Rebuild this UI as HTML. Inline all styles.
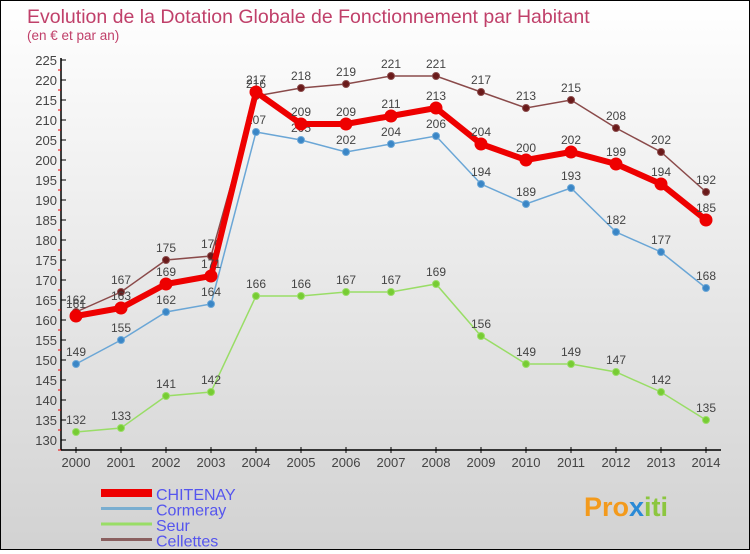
<!DOCTYPE html>
<html><head><meta charset="utf-8"><style>
body{margin:0;width:750px;height:550px;overflow:hidden;font-family:"Liberation Sans",sans-serif}
#c{position:absolute;left:0;top:0;width:748px;height:548px;border:1px solid #000;background:linear-gradient(#fff,#d2d2d2)}
</style></head><body>
<div id="c">
<svg id="s" width="748" height="548">
<text x="26" y="22" font-size="19.5" fill="#c0406a">Evolution de la Dotation Globale de Fonctionnement par Habitant</text>
<text x="26" y="39" font-size="13.5" fill="#c0406a">(en € et par an)</text>
<g id="g"></g>
<text x="583" y="515" font-size="27" font-weight="bold" fill="#f39a1c">Pro<tspan fill="#2a8ad6">x</tspan><tspan fill="#8cc63f">iti</tspan></text>
</svg></div>
<script>
const years=[2000,2001,2002,2003,2004,2005,2006,2007,2008,2009,2010,2011,2012,2013,2014];
const chitenay=[161,163,169,171,217,209,209,211,213,204,200,202,199,194,185];
const cormeray=[149,155,162,164,207,205,202,204,206,194,189,193,182,177,168];
const seur=[132,133,141,142,166,166,167,167,169,156,149,149,147,142,135];
const cellettes=[162,167,175,176,216,218,219,221,221,217,213,215,208,202,192];
const yTicks=[130,135,140,145,150,155,160,165,170,175,180,185,190,195,200,205,210,215,220,225];
const names=["CHITENAY","Cormeray","Seur","Cellettes"];
const NS="http://www.w3.org/2000/svg";
const g=document.getElementById('g');
const X=i=>75+i*45;
const Y=v=>439-(v-130)*4;
function mk(t,a,p){const e=document.createElementNS(NS,t);for(const k in a)e.setAttribute(k,a[k]);(p||g).appendChild(e);return e;}
let ax=mk('line',{x1:60,y1:Y(225)-2,x2:60,y2:449,stroke:'#000','stroke-width':1.5});


let bx=mk('line',{x1:60,y1:449,x2:720,y2:449,stroke:'#000','stroke-width':1.5});


yTicks.forEach(v=>{
 mk('line',{x1:60,y1:Y(v),x2:65,y2:Y(v),stroke:'#000'});
 mk('line',{x1:57,y1:Y(v)+10,x2:60,y2:Y(v)+10,stroke:'#e00'});
 const t=mk('text',{x:56,y:Y(v)+5,'font-size':13,fill:'#444','text-anchor':'end'});t.textContent=v;
 
 
});
years.forEach((y,i)=>{
 mk('line',{x1:X(i),y1:446,x2:X(i),y2:452,stroke:'#000'});
 const t=mk('text',{x:X(i),y:466,'font-size':13,fill:'#444','text-anchor':'middle'});t.textContent=y;
 
 
});
function series(d,col,w,r,fill,name){
 const p=mk('polyline',{points:d.map((v,i)=>X(i)+','+Y(v)).join(' '),fill:'none',stroke:col,'stroke-width':w});
 
 
 d.forEach((v,i)=>{
  const c=mk('circle',{cx:X(i),cy:Y(v),r:r,fill:fill,stroke:col,'stroke-width':1});
  
  
  const t=mk('text',{x:X(i),y:Y(v)-8,'font-size':12,fill:'#444','text-anchor':'middle'});t.textContent=v;
  
  
 });
}
series(seur,'#99dd66',1.5,3.5,'#77cc33','seur');
series(cormeray,'#6aa6d6',1.5,3.5,'#3a86c6','cormeray');
series(cellettes,'#8a4a4a',1.5,3.5,'#6a1a1a','cellettes');
series(chitenay,'#ee0000',6,6,'#ee0000','chitenay');
const lc=['#ee0000','#7aaed0','#99dd66','#8a6060'],lw=[8,3,3,3];
names.forEach((n,i)=>{
 const y=492+i*15.5;
 const l=mk('line',{x1:100,y1:y,x2:151,y2:y,stroke:lc[i],'stroke-width':lw[i]});
 
 
 const t=mk('text',{x:155,y:y+7,'font-size':16,fill:'#5555ee'});t.textContent=n;
 
 
});
</script>
</body></html>
